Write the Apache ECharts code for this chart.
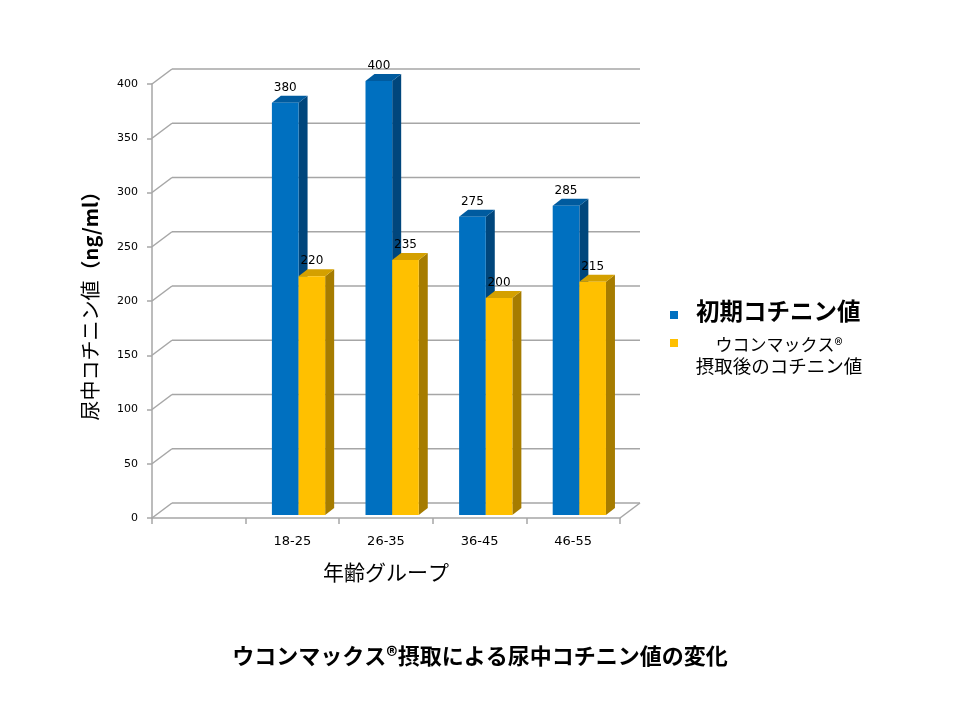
<!DOCTYPE html>
<html><head><meta charset="utf-8">
<script src="https://cdn.jsdelivr.net/npm/echarts@6/dist/echarts.min.js"></script>
<style>html,body{margin:0;padding:0;background:#fff}#c{width:960px;height:720px}</style>
</head><body><div id="c"></div>
<script>
const categories = ['', '18-25', '26-35', '36-45', '46-55'];
const initialValues = [null, 380, 400, 275, 285];
const afterValues = [null, 220, 235, 200, 215];
const yTickValues = [0, 50, 100, 150, 200, 250, 300, 350, 400];
const seriesNames = ['初期コチニン値', 'ウコンマックス®摂取後のコチニン値'];
const titleText = 'ウコンマックス®摂取による尿中コチニン値の変化';
const xAxisTitle = '年齢グループ';

const JP = '"Noto Sans CJK JP", sans-serif';
const NUM = '"DejaVu Sans", sans-serif';
const DX = 20, DY = -15;      // wall depth
const BDX = 9, BDY = -7;      // bar depth
const BOX = 0, BOY = -3;      // bar offset into the scene
const LINE = '#a6a6a6';

const colors = [
  { front: '#0070C0', side: '#00467C', top: '#005B9F' },
  { front: '#FFC000', side: '#A67C00', top: '#D4A000' }
];
const edges = [[-0.219, 0.066], [0.066, 0.35]];

function toPairs(arr) {
  const out = [];
  arr.forEach((v, i) => { if (v !== null) out.push([i, v]); });
  return out;
}

function barRenderer(sIdx) {
  return function (params, api) {
    const i = api.value(0), v = api.value(1);
    const sw = api.size([1, 0])[0];
    const top = api.coord([i, v]);
    const base = api.coord([i, 0]);
    const c = top[0];
    const x1 = c + edges[sIdx][0] * sw + BOX;
    const x2 = c + edges[sIdx][1] * sw + BOX;
    const yt = top[1] + BOY, yb = base[1] + BOY;
    const col = colors[sIdx];
    return {
      type: 'group',
      children: [
        { type: 'polygon', shape: { points: [[x2, yt], [x2 + BDX, yt + BDY], [x2 + BDX, yb + BDY], [x2, yb]] }, style: { fill: col.side } },
        { type: 'polygon', shape: { points: [[x1, yt], [x1 + BDX, yt + BDY], [x2 + BDX, yt + BDY], [x2, yt]] }, style: { fill: col.top } },
        { type: 'rect', shape: { x: x1, y: yt, width: x2 - x1, height: yb - yt }, style: { fill: col.front } },
        { type: 'text', style: { text: String(v), x: (x1 + x2) / 2, y: yt - 9, align: 'center', verticalAlign: 'bottom', font: '12px ' + NUM, fill: '#000' } }
      ]
    };
  };
}

function wallRenderer(params, api) {
  const v = api.value(0);
  const sw = api.size([1, 0])[0];
  const p0 = api.coord([0, v]);
  const pN = api.coord([categories.length - 1, v]);
  const left = p0[0] - sw / 2, right = pN[0] + sw / 2, y = p0[1];
  const ls = { stroke: LINE, lineWidth: 1.5 };
  const ch = [
    { type: 'line', shape: { x1: left + DX, y1: y + DY, x2: right + DX, y2: y + DY }, style: ls },
    { type: 'line', shape: { x1: left, y1: y, x2: left + DX, y2: y + DY }, style: ls }
  ];
  if (v === 0) ch.push({ type: 'line', shape: { x1: right, y1: y, x2: right + DX, y2: y + DY }, style: ls });
  return { type: 'group', children: ch };
}

const chart = echarts.init(document.getElementById('c'), null, { renderer: 'canvas' });
chart.setOption({
  animation: false,
  backgroundColor: '#fff',
  title: {
    text: titleText, left: 'center', top: 640,
    textStyle: { fontFamily: JP, fontSize: 22, fontWeight: 'bold', color: '#000' }
  },
  grid: { left: 152, top: 84, width: 468, height: 434 },
  xAxis: {
    type: 'category', data: categories,
    name: xAxisTitle, nameLocation: 'middle', nameGap: 44,
    nameTextStyle: { fontFamily: JP, fontSize: 21, color: '#000' },
    axisLine: { lineStyle: { color: LINE, width: 1.5 } },
    axisTick: { show: true, interval: 0, length: 6, lineStyle: { color: LINE, width: 1.5 } },
    axisLabel: { interval: 0, margin: 17, fontFamily: NUM, fontSize: 13, color: '#000' },
    splitLine: { show: false }
  },
  yAxis: {
    type: 'value', min: 0, max: 400, interval: 50,
    name: '{a|尿中コチニン値}{b|（ng/ml）}', nameLocation: 'middle', nameGap: 52, nameRotate: 90,
    nameTextStyle: {
      fontFamily: JP, fontSize: 20, color: '#000',
      rich: {
        a: { fontFamily: JP, fontSize: 20, color: '#000' },
        b: { fontFamily: JP, fontSize: 20, fontWeight: 'bold', color: '#000' }
      }
    },
    axisLine: { show: true, lineStyle: { color: LINE, width: 1.5 } },
    axisTick: { show: true, length: 5, lineStyle: { color: LINE, width: 1.5 } },
    axisLabel: { margin: 14, fontFamily: NUM, fontSize: 11, color: '#000' },
    splitLine: { show: false }
  },
  series: [
    { type: 'custom', name: 'wall', data: yTickValues.map(v => [v]), encode: { y: 0 }, renderItem: wallRenderer, clip: false, silent: true, z: 1 },
    { type: 'custom', name: seriesNames[0], data: toPairs(initialValues), encode: { x: 0, y: 1 }, renderItem: barRenderer(0), clip: false, z: 2 },
    { type: 'custom', name: seriesNames[1], data: toPairs(afterValues), encode: { x: 0, y: 1 }, renderItem: barRenderer(1), clip: false, z: 3 }
  ],
  graphic: [
    { type: 'rect', shape: { x: 670, y: 311, width: 8, height: 8 }, style: { fill: colors[0].front } },
    { type: 'text', style: { text: '初期コチニン値', x: 696, y: 311, verticalAlign: 'middle', font: 'bold 23.5px ' + JP, fill: '#000' } },
    { type: 'rect', shape: { x: 670, y: 339, width: 8, height: 8 }, style: { fill: colors[1].front } },
    { type: 'text', style: { text: 'ウコンマックス®', x: 779, y: 345, align: 'center', verticalAlign: 'middle', font: '17px ' + JP, fill: '#000' } },
    { type: 'text', style: { text: '摂取後のコチニン値', x: 779, y: 366, align: 'center', verticalAlign: 'middle', font: '18.5px ' + JP, fill: '#000' } }
  ]
});
</script></body></html>
